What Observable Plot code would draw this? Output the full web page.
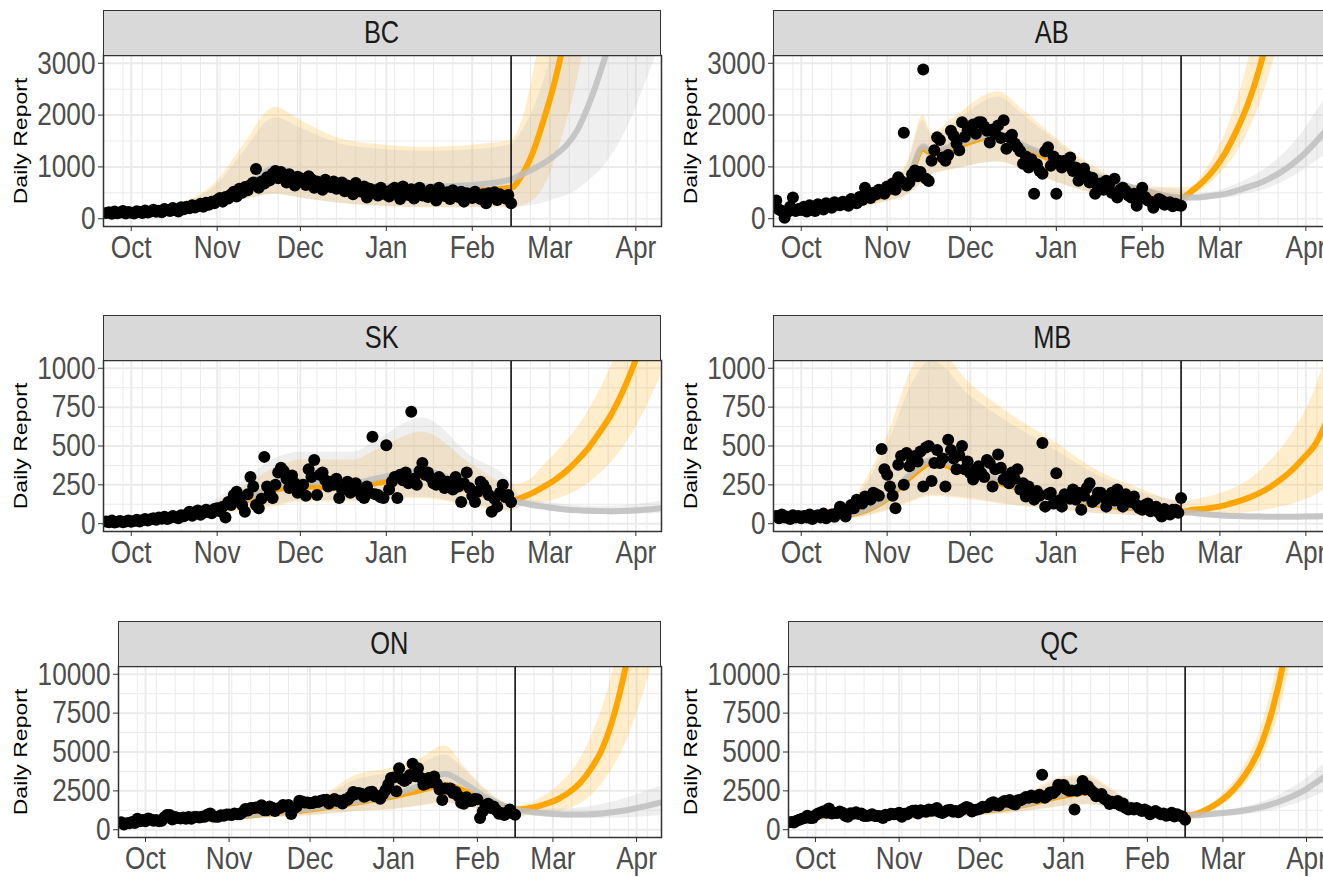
<!DOCTYPE html>
<html><head><meta charset="utf-8">
<script src="https://cdn.jsdelivr.net/npm/d3@7"></script>
<script src="https://cdn.jsdelivr.net/npm/@observablehq/plot@0.6"></script>
<style>
html,body{margin:0;padding:0;background:#fff;overflow:hidden;}
#page{position:relative;width:1323px;height:877px;overflow:hidden;background:#fff;}
.strip{position:absolute;box-sizing:border-box;background:#D9D9D9;border:1.5px solid #333;color:#1A1A1A;
  font-family:"Liberation Sans",Arial,sans-serif;font-size:31px;display:flex;align-items:center;justify-content:center;overflow:hidden;}
.strip span{display:inline-block;transform:scaleX(0.82);}
.panel{position:absolute;}
.ytitle{position:absolute;white-space:nowrap;font-family:"Liberation Sans",Arial,sans-serif;font-size:23px;color:#000;
  transform:translate(-50%,-50%) scaleX(0.82) rotate(-90deg);transform-origin:center center;}
</style></head>
<body><div id="page"></div>
<script>
// ---------- data ----------
const firstDay = "2020-09-22"; // daily reports run from this day to 2021-02-15
const cutoffDate = "2021-02-15";
const xDomainDates = ["2020-09-21", "2021-04-10T06:00"];
const monthTicks = ["2020-10-01","2020-11-01","2020-12-01","2021-01-01","2021-02-01","2021-03-01","2021-04-01"];
const forecastKnots = ["2021-02-19","2021-02-23","2021-02-27","2021-03-03","2021-03-07","2021-03-11","2021-03-15","2021-03-19","2021-03-23","2021-03-27","2021-03-31","2021-04-04","2021-04-10"];
const yTitle = "Daily Report";

// Daily reports
const bcReport = [110,125,95,140,105,120,150,100,130,
 115,100,145,130,110,160,120,140,175,135,155,125,190,165,150,205,170,140,220,185,230,200,260,215,245,290,230,310,270,330,300,
 360,400,330,420,390,470,520,430,580,500,610,550,650,700,960,600,720,680,800,740,870,920,780,900,830,700,860,750,640,810,
 780,700,650,820,760,600,720,690,560,750,680,610,720,580,660,700,530,640,600,470,690,560,520,620,410,580,500,550,450,600,480,
 520,430,560,600,490,380,620,510,460,570,390,530,600,450,500,420,560,520,350,600,480,440,510,380,550,470,420,520,330,490,460,
 400,520,450,380,470,300,490,420,510,360,470,430,390,460,300];
const abReport = [350,180,150,20,130,230,410,150,190,
 170,230,140,260,200,150,280,230,180,300,250,210,320,270,260,330,290,250,380,320,300,420,360,600,440,400,500,470,560,520,480,
 620,580,680,560,800,730,1660,640,700,860,930,820,900,2880,770,730,1120,1320,1570,1520,1180,1120,1230,1700,1600,1450,1320,1860,1580,1700,
 1750,1820,1640,1860,1860,1780,1700,1470,1720,1640,1800,1560,1900,1350,1570,1620,1450,1380,1300,1060,1200,990,1150,480,1050,920,870,1300,1380,1020,1200,
 480,1120,990,1120,1050,1180,920,990,735,880,970,830,700,790,480,620,680,560,735,640,500,770,410,560,600,540,450,410,480,250,380,
 600,420,350,330,210,300,380,350,270,290,320,240,290,260,250];
const skReport = [15,10,20,8,12,18,10,14,20,
 12,18,25,15,22,30,20,28,35,25,40,32,45,30,38,50,42,35,55,48,60,77,52,65,85,58,70,90,75,68,95,
 100,80,110,40,140,120,185,205,160,120,77,190,300,240,120,100,160,430,240,200,165,250,330,360,340,290,230,310,260,200,
 205,250,180,350,300,410,185,315,330,280,240,270,250,290,165,220,240,270,200,230,260,210,180,165,240,200,560,190,185,170,165,
 505,220,270,300,165,315,280,330,260,720,290,250,340,390,315,330,295,260,250,300,280,230,270,250,220,300,240,140,260,330,230,
 180,140,205,270,250,220,185,77,160,110,200,250,170,185,140];
const mbReport = [50,35,60,40,45,30,55,40,50,
 35,50,40,60,30,45,55,40,65,35,50,60,45,70,110,80,47,90,120,100,155,140,130,175,160,155,200,190,180,480,350,
 315,240,180,100,380,435,250,455,370,410,435,400,465,240,490,500,275,390,475,390,420,240,540,475,420,350,440,500,350,400,
 325,285,350,370,325,300,410,390,240,350,445,360,285,300,260,330,290,350,220,260,175,240,200,155,210,180,520,110,190,200,130,
 325,150,110,190,175,160,220,155,200,90,180,230,260,140,155,200,200,170,110,180,200,150,220,180,110,190,155,140,175,120,100,
 90,120,130,80,100,110,70,47,95,70,60,90,90,70,165];
const onReport = [480,340,410,410,490,440,700,550,620,
 540,730,650,570,620,550,580,800,940,940,650,820,750,720,780,710,820,700,820,820,790,840,840,980,1040,850,830,830,930,900,980,
 980,950,1050,990,1000,1130,1330,1240,1390,1390,1430,1420,1580,1250,1250,1490,1420,1210,1370,1420,1590,1530,1590,1010,1370,1480,1860,1820,1750,1750,
 1710,1720,1820,1780,1860,1920,1930,1680,1870,1980,1850,1870,1680,1940,1920,2140,2430,2290,2360,2320,2120,2200,2410,2450,2160,2160,2000,2280,2550,2920,3330,
 3360,2480,3950,3270,3130,3270,3520,4250,3440,3950,3340,2900,2960,3330,3060,3420,2960,2580,1910,2660,2630,2660,2360,2420,2150,1740,1670,2090,1840,1850,1970,
 1960,750,1170,1560,1670,1390,1490,1270,1020,1070,950,1080,1300,1060,960];
const qcReport = [490,470,580,640,700,750,900,750,760,
 930,1050,1110,1190,1100,1360,1040,1100,1080,1170,1090,900,840,1060,1030,1130,1010,1040,880,880,910,1000,880,880,860,760,960,930,1030,1000,1010,
 1100,840,1030,1000,1140,1220,1230,1040,1250,1200,1160,1300,1220,1300,1400,1140,1080,1180,1250,1280,1150,1200,1120,1250,1360,1460,1390,1180,1270,1300,
 1350,1480,1460,1470,1700,1770,1580,1560,1730,1850,1800,1920,1690,1620,1900,1900,2000,2100,2060,2200,2110,2050,2250,3530,2050,2200,2400,2350,2500,2900,2800,
 2870,2600,2500,2530,1300,2500,2640,3130,2590,2800,2560,2400,2160,2200,2300,2000,1900,1650,1800,1700,1850,1550,1690,1400,1300,1400,1300,1400,1300,1200,1300,
 1200,1000,1100,1200,1100,1000,1050,900,950,1100,850,1000,900,850,640];

// Model knots (fit period) — forecast knots appended
const bcFitKnots = ["2020-09-22","2020-10-01","2020-10-15","2020-11-01","2020-11-10","2020-11-22","2020-12-01","2020-12-15","2021-01-01","2021-01-15","2021-02-01","2021-02-15"];
const bcGreyMid   = [100,120,165,330,540,980,800,680,620,620,650,760, 860,960,1080,1230,1420,1720,2200,2800,3500,4400,5500,7000,9500];
const bcGreyLo    = [60,70,110,280,360,470,400,300,240,220,220,230, 230,260,310,380,450,560,730,920,1200,1550,2000,2550,3400];
const bcGreyHi    = [150,170,240,660,1250,1950,1750,1450,1330,1300,1330,1430, 1700,2100,2700,3400,4300,5500,7000,9000,11000,14000,18000,23000,30000];
const bcOrangeMid = [100,115,160,320,520,900,740,620,560,540,540,600, 850,1300,1950,2700,3700,5200,7300,10000,14000,19000,26000,36000,50000];
const bcOrangeLo  = [60,70,110,290,370,470,400,300,230,210,210,210, 250,350,620,1150,1850,2700,3900,5500,8000,11000,16000,22000,32000];
const bcOrangeHi  = [160,180,260,730,1380,2150,1900,1550,1420,1380,1420,1510, 1900,2800,4000,5800,8000,11000,15000,20000,27000,36000,48000,64000,90000];

const abFitKnots = ["2020-09-22","2020-10-01","2020-10-15","2020-11-01","2020-11-08","2020-11-14","2020-11-17","2020-11-25","2020-12-11","2020-12-20","2021-01-01","2021-01-15","2021-02-01","2021-02-15"];
const abGreyMid   = [150,170,240,500,700,1400,1300,1420,1640,1420,1150,830,560,410, 410,420,450,480,540,610,680,780,900,1050,1230,1450,1800];
const abGreyLo    = [90,110,170,340,460,720,860,960,1100,960,710,490,310,240, 360,370,380,400,430,480,530,600,690,800,930,1080,1300];
const abGreyHi    = [230,240,330,700,1000,1900,1600,1850,2350,2000,1500,950,600,560, 480,490,520,580,660,760,880,1020,1200,1420,1680,2000,2500];
const abOrangeMid = [140,160,230,480,680,1350,1260,1380,1600,1380,1100,790,530,400, 540,720,960,1280,1700,2200,2850,3700,4800,6200,8000,10500,15000];
const abOrangeLo  = [80,100,160,330,450,700,850,950,1100,950,700,480,300,230, 450,570,750,980,1270,1650,2150,2800,3600,4700,6100,7900,11000];
const abOrangeHi  = [250,260,350,740,1050,1990,1650,1950,2450,2100,1550,1000,620,600, 620,870,1200,1650,2250,3000,4000,5300,7000,9200,12000,16000,23000];

const skFitKnots = ["2020-09-22","2020-10-01","2020-10-15","2020-11-01","2020-11-10","2020-11-22","2020-12-01","2020-12-20","2020-12-28","2021-01-14","2021-02-01","2021-02-15"];
const skGreyMid   = [12,18,40,95,150,240,270,260,290,340,230,150, 135,120,110,100,92,87,84,82,81,82,85,90,100];
const skGreyLo    = [3,8,22,60,90,120,150,150,160,170,120,85, 110,95,85,76,69,64,61,59,58,58,60,63,68];
const skGreyHi    = [30,40,75,160,270,420,460,460,530,680,430,270, 165,150,140,130,122,116,113,112,113,116,122,130,145];
const skOrangeMid = [12,18,38,90,140,220,240,230,260,300,210,150, 170,200,240,285,340,410,490,590,700,840,1010,1210,1560];
const skOrangeLo  = [3,8,20,55,80,110,140,140,150,160,110,80, 110,120,135,155,180,215,260,320,390,480,590,720,950];
const skOrangeHi  = [25,35,65,140,230,360,410,410,470,590,380,250, 260,300,380,450,530,620,730,860,1010,1200,1420,1680,2100];

const mbFitKnots = ["2020-09-22","2020-10-01","2020-10-15","2020-11-01","2020-11-10","2020-11-17","2020-12-01","2020-12-15","2021-01-01","2021-01-15","2021-02-01","2021-02-15"];
const mbGreyMid   = [45,45,55,170,330,410,340,260,180,135,100,75, 70,62,56,52,49,47,46,45,45,45,46,47,48];
const mbGreyLo    = [22,22,28,90,150,185,165,125,95,68,52,45, 55,48,42,38,35,33,32,31,31,31,31,32,33];
const mbGreyHi    = [75,75,100,500,900,1050,820,650,470,320,200,130, 85,78,72,68,65,63,62,61,61,61,62,64,66];
const mbOrangeMid = [45,45,52,160,310,390,320,245,170,125,95,75, 90,95,105,120,140,165,195,235,285,345,420,500,720];
const mbOrangeLo  = [20,20,25,80,140,175,155,120,90,65,50,45, 50,50,52,56,62,70,80,92,108,125,150,180,240];
const mbOrangeHi  = [80,80,110,560,1000,1150,900,710,520,350,220,140, 150,165,180,205,235,275,330,400,480,580,700,850,1200];

const onFitKnots = ["2020-09-22","2020-10-01","2020-10-15","2020-11-01","2020-11-15","2020-12-01","2020-12-18","2021-01-01","2021-01-10","2021-01-20","2021-01-27","2021-02-03","2021-02-10","2021-02-15"];
const onGreyMid   = [380,520,650,800,1050,1350,1800,2250,2800,3600,3000,2200,1600,1300, 1200,1100,1050,1000,980,980,1000,1050,1120,1220,1350,1500,1750];
const onGreyLo    = [270,370,470,620,770,920,1180,1330,1530,1750,1550,1280,1020,820, 900,850,820,790,760,740,730,730,740,760,790,830,900];
const onGreyHi    = [560,700,850,1020,1320,1650,3200,3700,4150,4800,3900,2700,1800,1450, 1400,1350,1330,1330,1360,1420,1500,1620,1780,1960,2180,2430,2800];
const onOrangeMid = [380,510,640,780,1020,1300,1750,2150,2500,2900,2500,2000,1500,1300, 1350,1480,1700,1980,2400,3000,3900,5100,7000,9700,13200,17500,24000];
const onOrangeLo  = [250,350,450,600,750,900,1150,1300,1500,1700,1500,1250,1000,800, 900,950,1050,1150,1350,1650,2150,2900,3900,5200,6900,9000,12500];
const onOrangeHi  = [600,750,900,1080,1400,1730,3500,4000,4500,5400,4100,2800,1840,1500, 1600,1900,2300,2850,3550,4500,5900,7700,10000,13000,17000,22000,30000];

const qcFitKnots = ["2020-09-22","2020-10-01","2020-10-15","2020-11-01","2020-11-15","2020-12-01","2020-12-19","2021-01-01","2021-01-10","2021-01-19","2021-02-01","2021-02-15"];
const qcGreyMid   = [430,850,950,900,1050,1200,1700,2300,2550,2000,1150,900, 930,980,1040,1110,1190,1300,1450,1640,1880,2170,2520,2970,3700];
const qcGreyLo    = [310,670,770,720,820,920,1220,1520,1620,1380,870,650, 760,790,830,870,920,1000,1100,1230,1400,1600,1840,2130,2680];
const qcGreyHi    = [580,1000,1150,1070,1220,1500,2300,3250,3350,2500,1300,1150, 1080,1120,1180,1270,1390,1550,1750,2000,2320,2720,3170,3720,4650];
const qcOrangeMid = [430,840,940,890,1040,1180,1650,2200,2400,1900,1100,900, 1000,1300,1700,2250,3000,4000,5400,7500,10400,14400,20000,27000,38000];
const qcOrangeLo  = [300,650,750,700,800,900,1200,1500,1600,1350,850,620, 850,1080,1420,1870,2480,3300,4400,6000,8300,11500,16000,22000,31000];
const qcOrangeHi  = [600,1050,1200,1100,1250,1550,2400,3400,3500,2600,1350,1150, 1150,1500,1980,2650,3550,4800,6500,9000,12500,17000,23000,31000,44000];

const ticks3000 = [0,1000,2000,3000];
const minor3000 = [500,1500,2500];
const ticks1000 = [0,250,500,750,1000];
const minor1000 = [125,375,625,875];
const ticks10000 = [0,2500,5000,7500,10000];
const minor10000 = [1250,3750,6250,8750];

// ---------- drawing ----------
const FONT = '"Liberation Sans",Arial,sans-serif';
const page = document.getElementById("page");
const start = new Date(firstDay);
const xDomain = xDomainDates.map(d => new Date(d));
const weekTicks = d3.utcMonday.range(new Date("2020-09-21"), new Date("2021-04-11"));
const months = monthTicks.map(d => new Date(d));

function squashText(root, k) {
  root.querySelectorAll("text").forEach(t => {
    const x = +t.getAttribute("x") || 0;
    const tr = t.getAttribute("transform") || "";
    t.setAttribute("transform", `${tr} translate(${x},0) scale(${k},1) translate(${-x},0)`);
  });
}

function panel(cfg) {
  const {name, col, stripTop, mLeft, yMax, yTicks, yMinor, report, fitKnots, gm, gl, gh, om, ol, oh} = cfg;
  const knots = fitKnots.concat(forecastKnots);
  const model = knots.map((d, i) => ({date: new Date(d), gm: gm[i], gl: gl[i], gh: gh[i], om: om[i], ol: ol[i], oh: oh[i]}));
  const pts = report.map((v, i) => ({date: d3.utcDay.offset(start, i), value: v}));
  const svgLeft = col === 0 ? 0 : 670;
  const frameRight = col === 0 ? 661 : 1331;
  const frameW = frameRight - svgLeft - mLeft;
  const width = mLeft + frameW + 5;
  const panelTop = stripTop + 45;
  const panelH = 171;

  const strip = document.createElement("div");
  strip.className = "strip";
  const span = document.createElement("span");
  span.textContent = name;
  strip.appendChild(span);
  Object.assign(strip.style, {left: (svgLeft + mLeft) + "px", top: stripTop + "px", width: frameW + "px", height: "46px"});

  const chart = Plot.plot({
    width, height: 5 + panelH + 45,
    marginLeft: mLeft, marginRight: 5, marginTop: 5, marginBottom: 45,
    x: {type: "utc", domain: xDomain},
    y: {domain: [-0.05 * yMax, 1.05 * yMax]},
    style: {fontFamily: FONT, background: "transparent", overflow: "visible"},
    marks: [
      Plot.gridY(yMinor, {stroke: "#EBEBEB", strokeOpacity: 1, strokeWidth: 1}),
      Plot.gridX(weekTicks, {stroke: "#EBEBEB", strokeOpacity: 1, strokeWidth: 1}),
      Plot.gridY(yTicks, {stroke: "#EBEBEB", strokeOpacity: 1, strokeWidth: 2}),
      Plot.gridX(months, {stroke: "#EBEBEB", strokeOpacity: 1, strokeWidth: 2}),
      Plot.areaY(model, {x: "date", y1: "ol", y2: "oh", fill: "orange", fillOpacity: 0.2, curve: "monotone-x", clip: true}),
      Plot.areaY(model, {x: "date", y1: "gl", y2: "gh", fill: "#BEBEBE", fillOpacity: 0.25, curve: "monotone-x", clip: true}),
      Plot.lineY(model, {x: "date", y: "om", stroke: "orange", strokeWidth: 6, curve: "monotone-x", clip: true}),
      Plot.lineY(model, {x: "date", y: "gm", stroke: "#BEBEBE", strokeOpacity: 0.85, strokeWidth: 6, curve: "monotone-x", clip: true}),
      Plot.ruleX([new Date(cutoffDate)], {stroke: "black", strokeWidth: 1.5}),
      Plot.dot(pts, {x: "date", y: "value", r: 6, fill: "black", stroke: "none", clip: true}),
      Plot.frame({stroke: "#333", strokeWidth: 1.5}),
      Plot.axisX(months, {tickFormat: d3.utcFormat("%b"), tickSize: 5, tickPadding: 4, fontSize: 32, stroke: "#333", fill: "#4D4D4D", label: null}),
      Plot.axisY(yTicks, {tickSize: 5, tickPadding: 3, fontSize: 32, stroke: "#333", fill: "#4D4D4D", label: null, tickFormat: d => String(d)})
    ]
  });
  chart.style.maxWidth = "none";
  squashText(chart, 0.82);
  const wrap = document.createElement("div");
  wrap.className = "panel";
  Object.assign(wrap.style, {left: svgLeft + "px", top: (panelTop - 5) + "px", width: width + "px"});
  wrap.appendChild(chart);
  page.appendChild(wrap);
  page.appendChild(strip);

  const title = document.createElement("div");
  title.className = "ytitle";
  title.textContent = yTitle;
  Object.assign(title.style, {left: (svgLeft + 21) + "px", top: (panelTop + panelH / 2) + "px"});
  page.appendChild(title);
}

panel({name: "BC", col: 0, stripTop: 10, mLeft: 103, yMax: 3000, yTicks: ticks3000, yMinor: minor3000, report: bcReport, fitKnots: bcFitKnots, gm: bcGreyMid, gl: bcGreyLo, gh: bcGreyHi, om: bcOrangeMid, ol: bcOrangeLo, oh: bcOrangeHi});
panel({name: "AB", col: 1, stripTop: 10, mLeft: 103, yMax: 3000, yTicks: ticks3000, yMinor: minor3000, report: abReport, fitKnots: abFitKnots, gm: abGreyMid, gl: abGreyLo, gh: abGreyHi, om: abOrangeMid, ol: abOrangeLo, oh: abOrangeHi});
panel({name: "SK", col: 0, stripTop: 315, mLeft: 103, yMax: 1000, yTicks: ticks1000, yMinor: minor1000, report: skReport, fitKnots: skFitKnots, gm: skGreyMid, gl: skGreyLo, gh: skGreyHi, om: skOrangeMid, ol: skOrangeLo, oh: skOrangeHi});
panel({name: "MB", col: 1, stripTop: 315, mLeft: 103, yMax: 1000, yTicks: ticks1000, yMinor: minor1000, report: mbReport, fitKnots: mbFitKnots, gm: mbGreyMid, gl: mbGreyLo, gh: mbGreyHi, om: mbOrangeMid, ol: mbOrangeLo, oh: mbOrangeHi});
panel({name: "ON", col: 0, stripTop: 621, mLeft: 118, yMax: 10000, yTicks: ticks10000, yMinor: minor10000, report: onReport, fitKnots: onFitKnots, gm: onGreyMid, gl: onGreyLo, gh: onGreyHi, om: onOrangeMid, ol: onOrangeLo, oh: onOrangeHi});
panel({name: "QC", col: 1, stripTop: 621, mLeft: 118, yMax: 10000, yTicks: ticks10000, yMinor: minor10000, report: qcReport, fitKnots: qcFitKnots, gm: qcGreyMid, gl: qcGreyLo, gh: qcGreyHi, om: qcOrangeMid, ol: qcOrangeLo, oh: qcOrangeHi});
</script>
</body></html>
